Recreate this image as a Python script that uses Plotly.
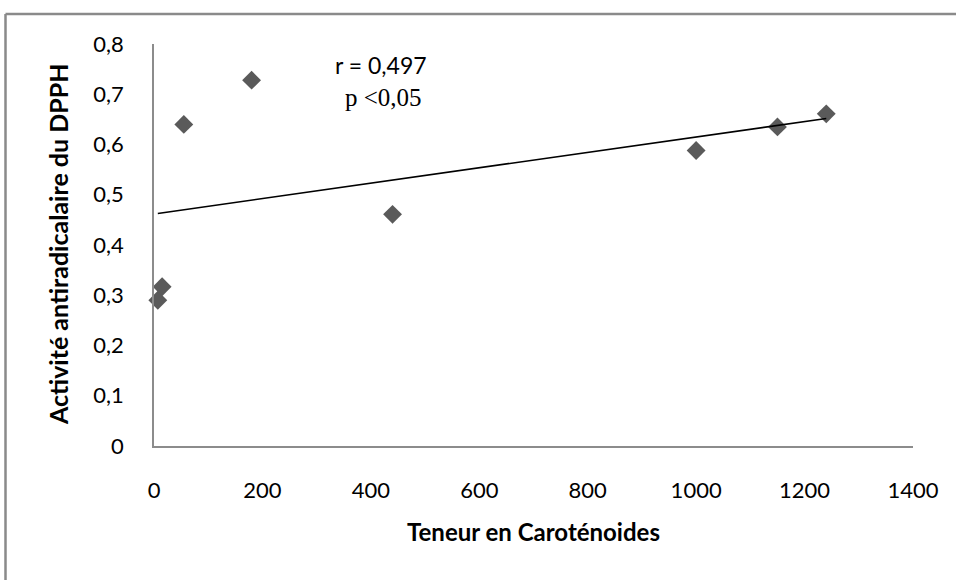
import numpy as np
import plotly.graph_objects as go

# Carotenoid content vs. DPPH radical-scavenging activity
carotenoides = [7, 15, 55, 180, 440, 1000, 1150, 1240]
activite_dpph = [0.290, 0.317, 0.640, 0.728, 0.461, 0.588, 0.635, 0.661]

x_ticks = [0, 200, 400, 600, 800, 1000, 1200, 1400]
x_ticklabels = ["0", "200", "400", "600", "800", "1000", "1200", "1400"]
y_ticks = [0, 0.1, 0.2, 0.3, 0.4, 0.5, 0.6, 0.7, 0.8]
y_ticklabels = ["0", "0,1", "0,2", "0,3", "0,4", "0,5", "0,6", "0,7", "0,8"]

x_title = "Teneur en Caroténoides"
y_title = "Activité antiradicalaire du DPPH"
stat_r = "r = 0,497"
stat_p = "p <0,05"

# Linear trend line (least squares) across the data span
slope, intercept = np.polyfit(carotenoides, activite_dpph, 1)
trend_x = [min(carotenoides), max(carotenoides)]
trend_y = [intercept + slope * v for v in trend_x]

W, H = 956, 580
L, R, T, B = 154, 43, 43.5, 134
pw, ph = W - L - R, H - T - B

fig = go.Figure()
fig.add_trace(go.Scatter(
    x=carotenoides, y=activite_dpph, mode="markers",
    marker=dict(symbol="diamond", size=14.5, color="#5a5a5a", line=dict(width=0)),
    showlegend=False, cliponaxis=False,
))
fig.add_trace(go.Scatter(
    x=trend_x, y=trend_y, mode="lines",
    line=dict(color="black", width=1.6),
    showlegend=False,
))

sans = "Lato, 'Open Sans', sans-serif"
axis_font = dict(family=sans, size=22, color="black")

fig.update_layout(
    width=W, height=H,
    margin=dict(l=L, r=R, t=T, b=B, pad=0),
    paper_bgcolor="white", plot_bgcolor="white",
    xaxis=dict(
        range=[0, 1400], tickvals=x_ticks, ticktext=x_ticklabels,
        showgrid=False, zeroline=False, showline=True, linecolor="#8c8c8c", linewidth=1.5,
        ticks="", tickfont=axis_font, ticklabelstandoff=24,
        title=dict(text="<b>" + x_title + "</b>", standoff=22,
                   font=dict(family=sans, size=24, color="black")),
    ),
    yaxis=dict(
        range=[0, 0.8], tickvals=y_ticks, ticktext=y_ticklabels,
        showgrid=False, zeroline=False, showline=True, linecolor="#8c8c8c", linewidth=1.5,
        ticks="", tickfont=axis_font, ticklabelstandoff=24,
    ),
    annotations=[
        # rotated y-axis title
        dict(x=(58 - L) / pw, y=0.5, xref="paper", yref="paper",
             text="<b>" + y_title + "</b>", textangle=-90, showarrow=False,
             xanchor="center", yanchor="middle",
             font=dict(family=sans, size=25, color="black")),
        dict(x=(381 - L) / pw * 1400, y=0.8 - (65 - T) / ph * 0.8, xref="x", yref="y",
             text=stat_r, showarrow=False, xanchor="center", yanchor="middle",
             font=dict(family=sans, size=23, color="black")),
        dict(x=(383 - L) / pw * 1400, y=0.8 - (97 - T) / ph * 0.8, xref="x", yref="y",
             text=stat_p, showarrow=False, xanchor="center", yanchor="middle",
             font=dict(family="'Liberation Serif', 'Times New Roman', serif", size=25, color="black")),
    ],
    shapes=[
        # outer chart frame (left and top edges visible)
        dict(type="line", xref="paper", yref="paper",
             x0=(5.5 - L) / pw, x1=(W + 20 - L) / pw,
             y0=1 + (T - 13.5) / ph, y1=1 + (T - 13.5) / ph,
             line=dict(color="#8a8a8a", width=2.5)),
        dict(type="line", xref="paper", yref="paper",
             x0=(5.5 - L) / pw, x1=(5.5 - L) / pw,
             y0=1 + (T - 13.5) / ph, y1=-(H + 20 - T - ph) / ph,
             line=dict(color="#8a8a8a", width=2.5)),
    ],
)

fig.write_html("out.html")
